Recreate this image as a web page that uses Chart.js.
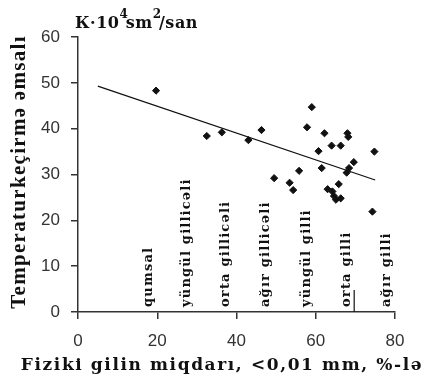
<!DOCTYPE html>
<html>
<head>
  <meta charset="utf-8">
  <title>Temperaturkeçirmə əmsalı</title>
  <script src="https://cdn.jsdelivr.net/npm/chart.js"></script>
  <style>
    body { margin: 0; background: #fff; }
  </style>
</head>
<body>
  <canvas id="chart" width="443" height="380"></canvas>

  <script>
    // fiziki gil (%) ve temperaturkeçirmə əmsalı ölçmələri
    var clayX = [19.7, 32.5, 36.3, 43.0, 46.3, 49.5, 53.4, 54.3, 55.8, 57.8,
                 59.0, 60.7, 61.5, 62.2, 64.0, 66.3, 68.0, 68.2, 63.0, 64.2,
                 64.6, 65.8, 66.3, 65.1, 67.8, 68.4, 69.6, 74.8, 74.3];
    var conductY = [48.3, 38.4, 39.2, 37.5, 39.7, 29.2, 28.2, 26.6, 30.8, 40.3,
                    44.7, 35.1, 31.4, 39.0, 36.3, 36.3, 39.0, 38.2, 26.8, 26.3,
                    25.3, 27.9, 24.8, 24.5, 30.4, 31.4, 32.7, 35.0, 21.9];

    // xətti trend
    var trendX = [5, 75];
    var trendY = [49.3, 28.8];

    // torpaq qrupları
    var classNames = ['qumsal', 'yüngül gillicəli', 'orta gillicəli', 'ağır gillicəli',
                      'yüngül gilli', 'orta gilli', 'ağır gilli'];
    var classX = [17.8, 27.3, 37.3, 47.3, 57.6, 67.7, 78.0];
    var edgeX = [69.7];
    var edgeY = [0, 4.8];

    var xTicks = [0, 20, 40, 60, 80];
    var yTicks = [0, 10, 20, 30, 40, 50, 60];

    var points = [];
    for (var i = 0; i < clayX.length; i++) {
      points.push({ x: clayX[i], y: conductY[i] });
    }

    var textPlugin = {
      id: 'texts',
      afterDraw: function(chart) {
        var ctx = chart.ctx;
        var xs = chart.scales.x;
        var ys = chart.scales.y;
        ctx.save();
        ctx.fillStyle = '#111';

        // qrup adları (şaquli)
        ctx.font = 'bold 13px "DejaVu Serif"';
        ctx.letterSpacing = '1.2px';
        ctx.textAlign = 'left';
        ctx.textBaseline = 'middle';
        for (var k = 0; k < classNames.length; k++) {
          ctx.save();
          ctx.translate(xs.getPixelForValue(classX[k]), ys.getPixelForValue(0) - 5);
          ctx.rotate(-Math.PI / 2);
          ctx.fillText(classNames[k], 0, 0);
          ctx.restore();
        }

        // y oxu başlığı
        ctx.font = 'bold 21px "Liberation Serif"';
        ctx.letterSpacing = '1.3px';
        ctx.textAlign = 'center';
        ctx.save();
        ctx.translate(20, 172);
        ctx.rotate(-Math.PI / 2);
        ctx.fillText('Temperaturkeçirmə əmsalı', 0, 0);
        ctx.restore();

        // x oxu başlığı
        ctx.font = 'bold 17px "DejaVu Serif"';
        ctx.letterSpacing = '1.6px';
        ctx.fillText('Fizikі gilin miqdarı, <0,01 mm, %-lə', 222, 366);

        // ölçü vahidi
        ctx.textAlign = 'left';
        ctx.textBaseline = 'alphabetic';
        var x = 75, base = 28;
        var parts = [['К·10', 0], ['4', 1], ['sm', 0], ['2', 1], ['/san', 0]];
        for (var p = 0; p < parts.length; p++) {
          if (parts[p][1]) {
            ctx.font = 'bold 12px "DejaVu Serif"';
            ctx.letterSpacing = '0px';
            ctx.fillText(parts[p][0], x, base - 10);
            x += ctx.measureText(parts[p][0]).width - 2;
          } else {
            ctx.font = 'bold 16px "DejaVu Serif"';
            ctx.letterSpacing = '0.5px';
            ctx.fillText(parts[p][0], x, base);
            x += ctx.measureText(parts[p][0]).width;
          }
        }
        ctx.restore();
      }
    };

    var axisColor = '#333';

    new Chart(document.getElementById('chart'), {
      type: 'scatter',
      data: {
        datasets: [
          {
            data: points,
            pointStyle: 'rectRot',
            pointRadius: 3.6,
            backgroundColor: '#111',
            borderColor: '#111',
            borderWidth: 1
          },
          {
            type: 'line',
            data: [{ x: trendX[0], y: trendY[0] }, { x: trendX[1], y: trendY[1] }],
            borderColor: '#111',
            borderWidth: 1.3,
            pointRadius: 0,
            fill: false
          },
          {
            type: 'line',
            data: [{ x: edgeX[0], y: edgeY[0] }, { x: edgeX[0], y: edgeY[1] }],
            borderColor: '#111',
            borderWidth: 1.2,
            pointRadius: 0,
            fill: false
          }
        ]
      },
      options: {
        responsive: false,
        animation: false,
        layout: { padding: { left: 0, right: 48, top: 37, bottom: 0 } },
        plugins: {
          legend: { display: false },
          tooltip: { enabled: false }
        },
        scales: {
          x: {
            type: 'linear',
            min: xTicks[0],
            max: xTicks[xTicks.length - 1],
            afterBuildTicks: function(scale) {
              scale.ticks = xTicks.map(function(v) { return { value: v }; });
            },
            afterFit: function(scale) { scale.height = 68; },
            border: { display: true, color: axisColor, width: 1.5 },
            grid: { drawOnChartArea: false, drawTicks: true, tickLength: 7, color: axisColor, lineWidth: 1.5 },
            ticks: { color: '#333', padding: 12, maxRotation: 0, font: { family: '"Liberation Sans"', size: 17 } }
          },
          y: {
            min: yTicks[0],
            max: yTicks[yTicks.length - 1],
            afterBuildTicks: function(scale) {
              scale.ticks = yTicks.map(function(v) { return { value: v }; });
            },
            afterFit: function(scale) { scale.width = 78; },
            border: { display: true, color: axisColor, width: 1.5 },
            grid: { drawOnChartArea: false, drawTicks: true, tickLength: 7, color: axisColor, lineWidth: 1.5 },
            ticks: { color: '#333', padding: 11, font: { family: '"Liberation Sans"', size: 17 } }
          }
        }
      },
      plugins: [textPlugin]
    });
  </script>
</body>
</html>
